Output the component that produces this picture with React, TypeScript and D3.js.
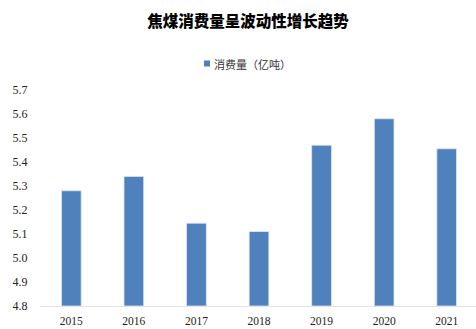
import React from "react";
import * as d3 from "d3";

const years = ["2015", "2016", "2017", "2018", "2019", "2020", "2021"];
const consumption = [5.28, 5.34, 5.145, 5.11, 5.47, 5.58, 5.455];
const yTicks = [4.8, 4.9, 5.0, 5.1, 5.2, 5.3, 5.4, 5.5, 5.6, 5.7];
const title = "焦煤消费量呈波动性增长趋势";
const seriesName = "消费量（亿吨）";

const W = 476;
const H = 329;

export default function App() {
  const x = d3
    .scaleBand<string>()
    .domain(years)
    .range([40, 478])
    .paddingInner(0.685)
    .paddingOuter(0.3425)
    .align(0.5);
  const y = d3.scaleLinear().domain([4.8, 5.7]).range([306, 90]);
  const serif = "'Liberation Serif', 'Times New Roman', serif";
  const cjk = "'Noto Sans CJK SC', sans-serif";

  return (
    <svg
      width={W}
      height={H}
      style={{ position: "absolute", left: 0, top: 0, background: "#fff" }}
    >
      <text
        x={248}
        y={20}
        textAnchor="middle"
        dominantBaseline="central"
        fontFamily={cjk}
        fontWeight={900}
        fontSize={15.5}
        fill="#000"
      >
        {title}
      </text>
      <g transform="translate(204,60.5)">
        <rect x={0} y={0} width={6} height={6} fill="#4F81BD" />
        <text
          x={10}
          y={3}
          dominantBaseline="central"
          fontFamily={cjk}
          fontSize={11}
          fill="#333"
        >
          {seriesName}
        </text>
      </g>
      {yTicks.map((t) => (
        <text
          key={t}
          x={27.5}
          y={y(t)}
          textAnchor="end"
          dominantBaseline="central"
          fontFamily={serif}
          fontSize={12}
          fill="#222"
        >
          {t.toFixed(1)}
        </text>
      ))}
      {years.map((yr, i) => (
        <rect
          key={yr}
          x={x(yr)!}
          y={y(consumption[i])}
          width={x.bandwidth()}
          height={y(4.8) - y(consumption[i])}
          fill="#4F81BD"
          stroke="#dbe5f1"
          strokeWidth={0.8}
        />
      ))}
      <line x1={40} x2={478} y1={306.5} y2={306.5} stroke="#e3e3e3" strokeWidth={1} />
      {years.map((yr) => (
        <text
          key={yr}
          x={x(yr)! + x.bandwidth() / 2}
          y={321}
          textAnchor="middle"
          dominantBaseline="central"
          fontFamily={serif}
          fontSize={11.5}
          fill="#222"
        >
          {yr}
        </text>
      ))}
    </svg>
  );
}
